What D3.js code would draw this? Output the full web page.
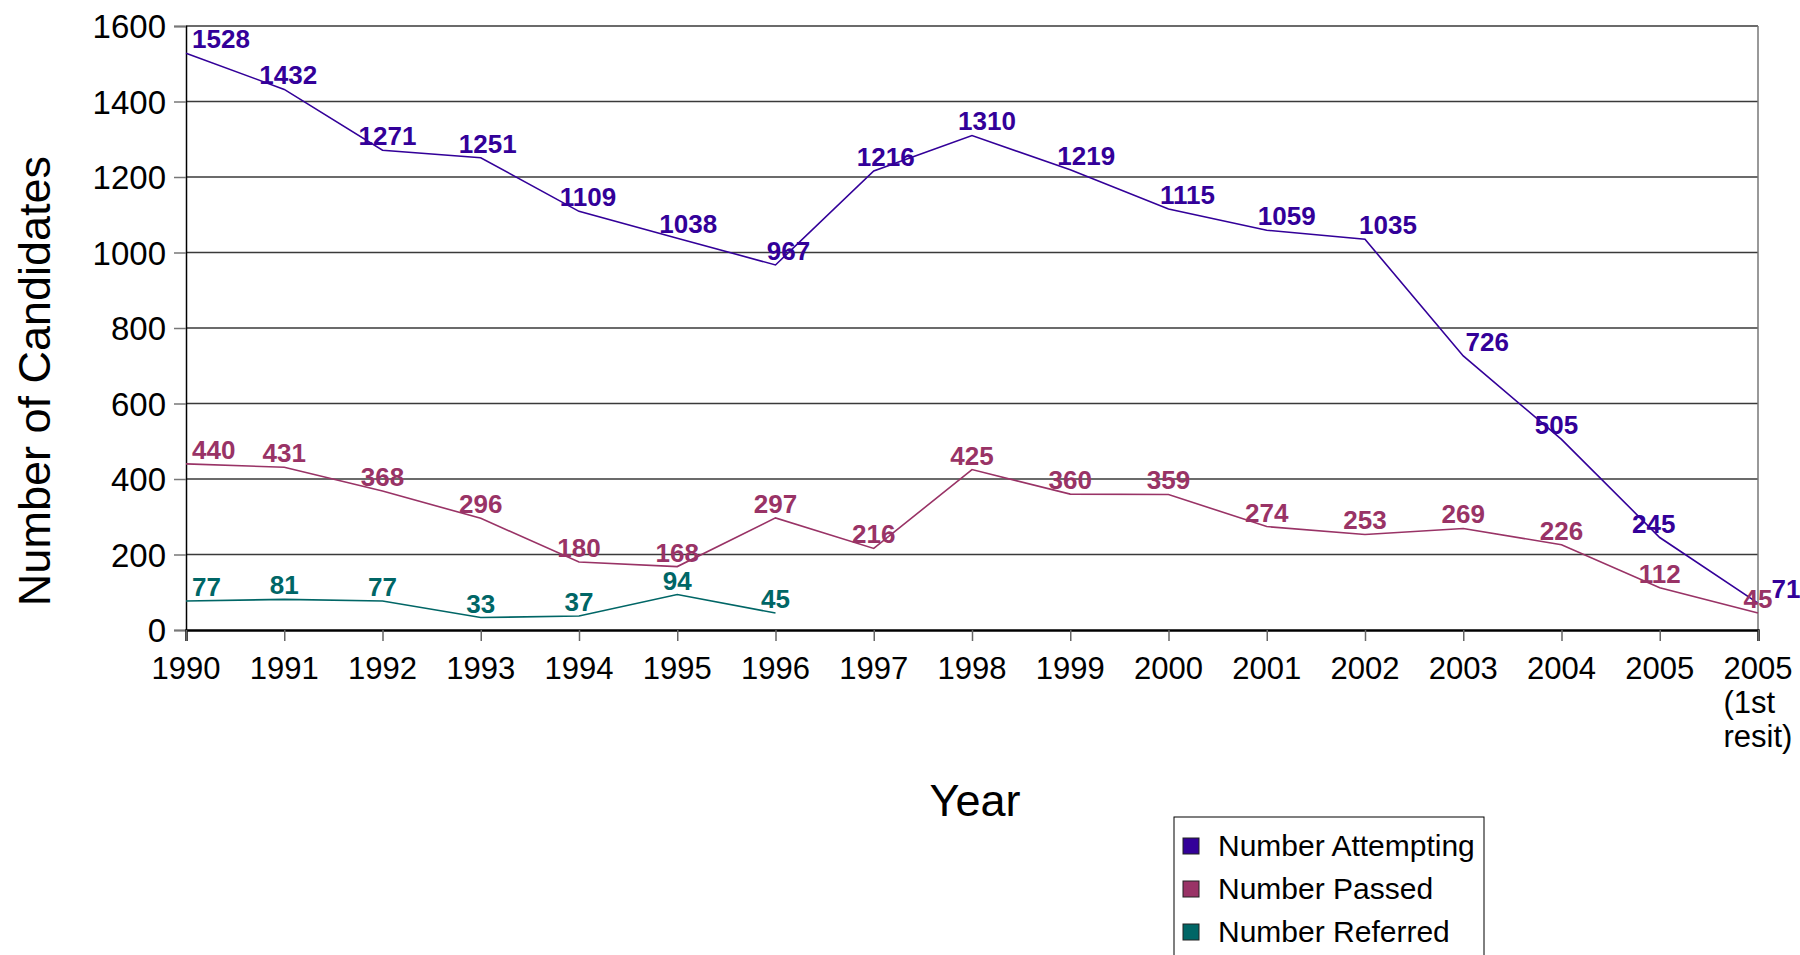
<!DOCTYPE html>
<html>
<head>
<meta charset="utf-8">
<script src="https://cdn.jsdelivr.net/npm/d3@7"></script>
<style>
  html, body { margin: 0; padding: 0; background: #fff; overflow: hidden; }
  svg { display: block; font-family: "Liberation Sans", Arial, sans-serif; }
</style>
</head>
<body>
<svg id="chart" width="1800" height="955"></svg>
<script>
// ---- data ----
const categories = ["1990","1991","1992","1993","1994","1995","1996","1997","1998","1999","2000","2001","2002","2003","2004","2005","2005 (1st resit)"];
const tickLabelLines = [["1990"],["1991"],["1992"],["1993"],["1994"],["1995"],["1996"],["1997"],["1998"],["1999"],["2000"],["2001"],["2002"],["2003"],["2004"],["2005"],["2005","(1st","resit)"]];
const attempting = [1528,1432,1271,1251,1109,1038,967,1216,1310,1219,1115,1059,1035,726,505,245,71];
const passed     = [440,431,368,296,180,168,297,216,425,360,359,274,253,269,226,112,45];
const referred   = [77,81,77,33,37,94,45];
const yTicks = [0,200,400,600,800,1000,1200,1400,1600];
const seriesNames = ["Number Attempting","Number Passed","Number Referred"];
const seriesColors = ["#330099","#993366","#006666"];
// label nudges (horizontal) for the attempting labels as placed in the original
const attemptingLabelDx = [0,4,5,7,9,11,13,12,15,16,19,20,23,24,-5,-6,28];

// ---- layout ----
const svg = d3.select("#chart");
const L = 186, R = 1758, T = 26, B = 630;
const x = d3.scalePoint().domain(categories).range([L, R]).padding(0);
const y = d3.scaleLinear().domain([0, 1600]).range([B, T]);

// gridlines
svg.append("g").selectAll("line").data(yTicks.filter(d => d > 0)).join("line")
  .attr("x1", L).attr("x2", R)
  .attr("y1", d => y(d)).attr("y2", d => y(d))
  .attr("stroke", "#3a3a3a").attr("stroke-width", 1.5);

// right border
svg.append("line").attr("x1", R).attr("x2", R).attr("y1", T).attr("y2", B)
  .attr("stroke", "#777").attr("stroke-width", 1.5);

// y axis
const yAxis = d3.axisLeft(y).tickValues(yTicks).tickSize(12).tickPadding(8).tickFormat(d3.format("d"));
const gy = svg.append("g").attr("transform", `translate(${L},0)`).call(yAxis);
gy.select(".domain").attr("stroke", "#000").attr("stroke-width", 1.5);
gy.selectAll(".tick line").attr("stroke", "#777").attr("stroke-width", 1.5);
gy.selectAll(".tick text").attr("font-size", 33).attr("fill", "#000")
  .attr("font-family", "Liberation Sans, Arial, sans-serif").attr("dy", "0.36em");

// x axis
const xAxis = d3.axisBottom(x).tickSize(11).tickFormat(() => "");
const gx = svg.append("g").attr("transform", `translate(0,${B})`).call(xAxis);
gx.select(".domain").attr("stroke", "#000").attr("stroke-width", 2.5);
gx.selectAll(".tick line").attr("stroke", "#666").attr("stroke-width", 1.5);

// x tick labels (multi-line, left aligned to first line)
categories.forEach((c, i) => {
  const lines = tickLabelLines[i];
  const t = svg.append("text").attr("font-size", 31).attr("fill", "#000")
    .attr("y", 679);
  t.append("tspan").attr("x", x(c)).text(lines[0]);
  if (lines.length === 1) {
    t.attr("text-anchor", "middle");
  } else {
    const w = t.node().getComputedTextLength();
    const x0 = x(c) - w / 2;
    t.select("tspan").attr("x", x0);
    lines.slice(1).forEach(l => t.append("tspan").attr("x", x0).attr("dy", 34).text(l));
  }
});

// lines
const line = d3.line().x((d, i) => x(categories[i])).y(d => y(d));
[attempting, passed, referred].forEach((s, k) => {
  svg.append("path").datum(s).attr("d", line)
    .attr("fill", "none").attr("stroke", seriesColors[k]).attr("stroke-width", 1.6);
});

// data labels
[attempting, passed, referred].forEach((s, k) => {
  svg.append("g").selectAll("text").data(s).join("text")
    .attr("font-size", 26).attr("font-weight", "bold").attr("fill", seriesColors[k])
    .attr("text-anchor", "middle")
    .attr("x", (d, i) => x(categories[i]) + (k === 0 ? attemptingLabelDx[i] : 0))
    .attr("y", d => y(d) - 5)
    .text(d => d)
    .each(function () {
      const bb = this.getBBox();
      if (bb.x < L + 6) d3.select(this).attr("x", +d3.select(this).attr("x") + (L + 6 - bb.x));
    });
});

// axis titles
svg.append("text").attr("transform", "translate(50,381) rotate(-90)")
  .attr("text-anchor", "middle").attr("font-size", 45).attr("fill", "#000")
  .text("Number of Candidates");
svg.append("text").attr("x", 975).attr("y", 816)
  .attr("text-anchor", "middle").attr("font-size", 45).attr("fill", "#000")
  .text("Year");

// legend
const lg = svg.append("g");
lg.append("rect").attr("x", 1174).attr("y", 817).attr("width", 310).attr("height", 160)
  .attr("fill", "#fff").attr("stroke", "#000").attr("stroke-width", 1);
seriesNames.forEach((n, i) => {
  const cy = 846 + i * 43;
  lg.append("rect").attr("x", 1183).attr("y", cy - 8).attr("width", 16).attr("height", 16)
    .attr("fill", seriesColors[i]).attr("stroke", "#222").attr("stroke-width", 1);
  lg.append("text").attr("x", 1218).attr("y", cy + 10).attr("font-size", 30).attr("fill", "#000").text(n);
});
</script>
</body>
</html>
